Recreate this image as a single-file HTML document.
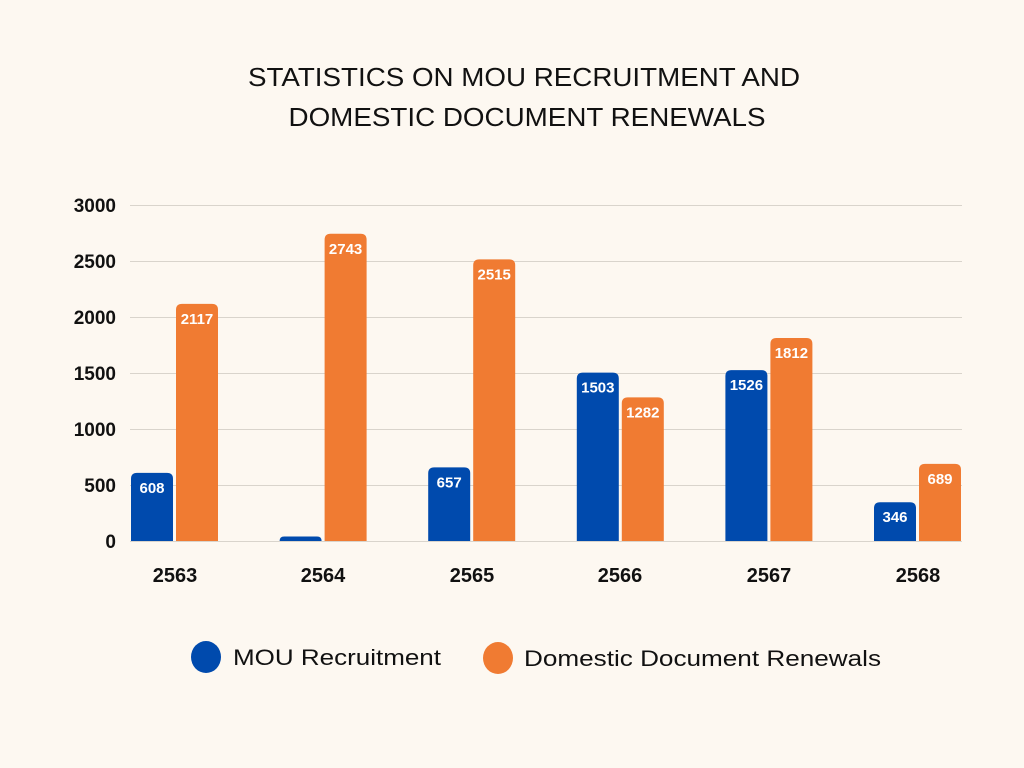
<!DOCTYPE html>
<html><head><meta charset="utf-8"><style>
html,body{margin:0;padding:0;background:#fdf8f1;}
svg{display:block;font-family:"Liberation Sans",sans-serif;}
</style></head><body>
<svg width="1024" height="768" viewBox="0 0 1024 768">
<rect width="1024" height="768" fill="#fdf8f1"/>
<text x="524" y="86" font-size="26" text-anchor="middle" textLength="552" lengthAdjust="spacingAndGlyphs" fill="#111">STATISTICS ON MOU RECRUITMENT AND</text>
<text x="527" y="126" font-size="26" text-anchor="middle" textLength="477" lengthAdjust="spacingAndGlyphs" fill="#111">DOMESTIC DOCUMENT RENEWALS</text>
<g stroke="#d9d4cc" stroke-width="1">
<line x1="130" x2="962" y1="205.5" y2="205.5"/>
<line x1="130" x2="962" y1="261.5" y2="261.5"/>
<line x1="130" x2="962" y1="317.5" y2="317.5"/>
<line x1="130" x2="962" y1="373.5" y2="373.5"/>
<line x1="130" x2="962" y1="429.5" y2="429.5"/>
<line x1="130" x2="962" y1="485.5" y2="485.5"/>
<line x1="130" x2="962" y1="541.5" y2="541.5"/>
</g>
<g font-size="19" font-weight="bold" fill="#111" text-anchor="end">
<text x="116" y="212">3000</text><text x="116" y="268">2500</text><text x="116" y="324">2000</text>
<text x="116" y="380">1500</text><text x="116" y="436">1000</text><text x="116" y="492">500</text><text x="116" y="548">0</text>
</g>
<g id="bars"></g>
<g font-size="20" font-weight="bold" fill="#111" text-anchor="middle">
<text x="175" y="582">2563</text><text x="323" y="582">2564</text><text x="472" y="582">2565</text>
<text x="620" y="582">2566</text><text x="769" y="582">2567</text><text x="918" y="582">2568</text>
</g>
<ellipse cx="206" cy="657" rx="15" ry="16" fill="#004aad"/>
<text x="233" y="665" font-size="22" fill="#111" textLength="208" lengthAdjust="spacingAndGlyphs">MOU Recruitment</text>
<ellipse cx="498" cy="658" rx="15" ry="16" fill="#f07b32"/>
<text x="524" y="666" font-size="22" fill="#111" textLength="357" lengthAdjust="spacingAndGlyphs">Domestic Document Renewals</text>
</svg>
<script>
var b=[608,40,657,1503,1526,346],o=[2117,2743,2515,1282,1812,689];
var g=document.getElementById('bars'),s='';
function bar(x,v,c,lbl){var h=v*0.112,t=541-h,r=Math.min(6,h);
s+='<path d="M'+x+' 541 V'+(t+r)+' Q'+x+' '+t+' '+(x+r)+' '+t+' H'+(x+42-r)+' Q'+(x+42)+' '+t+' '+(x+42)+' '+(t+r)+' V541 Z" fill="'+c+'"/>';
if(lbl)s+='<text x="'+(x+21)+'" y="'+(t+20)+'" font-size="15" font-weight="bold" fill="#fff" text-anchor="middle">'+v+'</text>';}
for(var i=0;i<6;i++){var d=148.6*i;bar(131+d,b[i],'#004aad',i!=1);bar(176+d,o[i],'#f07b32',true);}
g.innerHTML=s;
</script>
</body></html>
